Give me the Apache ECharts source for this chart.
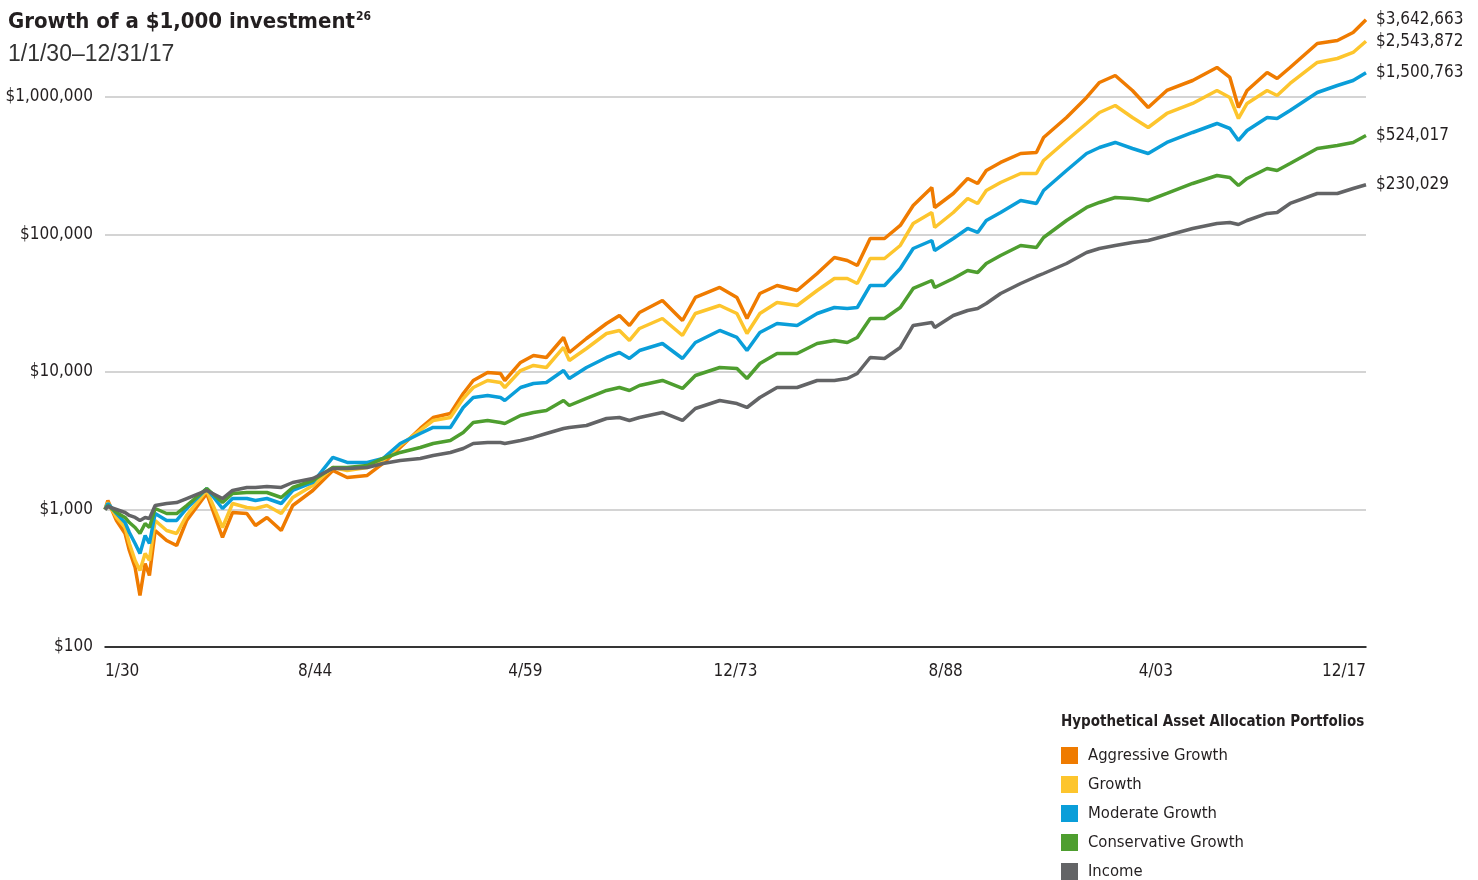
<!DOCTYPE html>
<html style="height: 100%">
<head>
<meta charset="utf-8">
<script src="https://cdn.jsdelivr.net/npm/echarts@6/dist/echarts.min.js"></script>
</head>
<body style="height: 100%; margin: 0; background: #fff">
<div id="container" style="width: 1478px; height: 880px"></div>
<script type="text/javascript">
// time points as decimal years (1/1930 .. 12/2017)
var timePoints = [1930.0, 1930.2, 1930.8, 1931.4, 1931.7, 1932.1, 1932.44, 1932.8, 1933.1, 1933.5,
    1934.3, 1935.0, 1935.7, 1937.1, 1938.2, 1938.9, 1939.9, 1940.5, 1941.3, 1942.3,
    1943.1, 1944.5, 1945.9, 1946.9, 1948.3, 1949.4, 1950.6, 1952.0, 1952.9, 1954.1,
    1955.0, 1955.7, 1956.7, 1957.6, 1957.9, 1959.0, 1959.9, 1960.8, 1962.0, 1962.4,
    1963.6, 1965.0, 1965.9, 1966.6, 1967.3, 1968.9, 1970.3, 1971.2, 1972.9, 1974.1,
    1974.8, 1975.7, 1976.9, 1978.3, 1979.7, 1980.9, 1981.8, 1982.5, 1983.4, 1984.4,
    1985.5, 1986.4, 1987.7, 1987.9, 1989.2, 1990.2, 1990.9, 1991.5, 1992.5, 1993.9,
    1995.0, 1995.5, 1997.1, 1998.5, 1999.4, 2000.5, 2001.7, 2002.8, 2004.1, 2005.9,
    2007.6, 2008.5, 2009.1, 2009.7, 2011.1, 2011.8, 2012.7, 2014.6, 2016.0, 2017.1, 2018.0];

var aggressive = [1000, 1162, 832, 669, 503, 379, 237, 405, 331, 703,
    595, 547, 832, 1307, 626, 951, 935, 765, 875, 703,
    1069, 1375, 1922, 1709, 1768, 2161, 2826, 3885, 4667, 4991,
    6976, 8673, 9917, 9752, 8673, 11730, 13180, 12750, 17820, 13860,
    17520, 22530, 25760, 21790, 27080, 33110, 23690, 34820, 41170, 34820,
    24500, 37230, 42570, 39150, 52040, 68030, 64690, 59490, 93520, 93520,
    116300, 162500, 219700, 157200, 198700, 255500, 234900, 292100, 334100, 388200,
    394800, 507500, 709400, 991700, 1275000, 1433000, 1115000, 838800, 1115000, 1318000,
    1639000, 1386000, 838800, 1115000, 1508000, 1363000, 1639000, 2450000, 2576000, 2945000, 3642663];

var growth = [1000, 1124, 875, 740, 566, 426, 360, 479, 426, 832,
    703, 669, 905, 1375, 740, 1106, 1034, 1017, 1069, 935,
    1222, 1495, 2021, 1922, 2021, 2273, 2922, 3757, 4439, 4667,
    6416, 7714, 8673, 8386, 7714, 10250, 11150, 10780, 15080, 12120,
    14820, 19050, 20040, 16950, 20720, 24500, 18430, 26640, 30450, 26640,
    19050, 26640, 32030, 30450, 39150, 47860, 47860, 44020, 66900, 66900,
    83180, 120200, 144500, 112400, 144500, 182700, 168100, 208900, 238900, 277700,
    277700, 345400, 482700, 641600, 771500, 867400, 709400, 600000, 758600, 897000,
    1115000, 991700, 697600, 897000, 1115000, 1025000, 1254000, 1782000, 1905000, 2107000, 2543872];

var moderate = [1000, 1106, 935, 804, 680, 566, 479, 647, 566, 935,
    832, 832, 1017, 1422, 1017, 1202, 1202, 1162, 1202, 1106,
    1375, 1572, 2390, 2198, 2198, 2350, 3022, 3572, 3951, 3951,
    5518, 6524, 6747, 6524, 6204, 7714, 8249, 8386, 10250, 8968,
    10780, 12750, 13860, 12540, 14330, 16120, 12540, 16390, 20040, 17820,
    14330, 19380, 22530, 21790, 26640, 29450, 28960, 29450, 42570, 42570,
    56580, 79100, 90450, 76490, 93520, 110600, 103400, 126400, 144500, 176700,
    168100, 208900, 292100, 388200, 429300, 466900, 422200, 388200, 466900, 551800,
    641600, 590000, 482700, 570600, 709400, 697600, 797800, 1078000, 1212000, 1318000, 1500763];

var conservative = [1000, 1069, 951, 875, 804, 740, 669, 791, 740, 1017,
    935, 935, 1069, 1422, 1124, 1307, 1329, 1329, 1329, 1222,
    1446, 1625, 2021, 2021, 2090, 2350, 2599, 2826, 3022, 3178,
    3633, 4293, 4439, 4293, 4222, 4826, 5075, 5248, 6204, 5706,
    6416, 7336, 7714, 7336, 7976, 8673, 7586, 9430, 10780, 10600,
    8968, 11530, 13630, 13630, 16120, 16950, 16390, 17820, 24500, 24500,
    29450, 40490, 46290, 41170, 47860, 54720, 52910, 61520, 70350, 83180,
    80440, 95110, 126400, 157200, 170900, 185800, 182700, 176700, 198700, 234900,
    268600, 259700, 227200, 255500, 302000, 292100, 328500, 422200, 444000, 466900, 524017];

var income = [1000, 1051, 1000, 951, 905, 875, 832, 875, 860, 1069,
    1106, 1124, 1202, 1375, 1202, 1375, 1446, 1446, 1470, 1446,
    1572, 1681, 1987, 1987, 2021, 2161, 2273, 2350, 2472, 2599,
    2779, 3022, 3073, 3073, 3022, 3178, 3342, 3572, 3885, 3951,
    4082, 4589, 4667, 4439, 4667, 5075, 4439, 5427, 6204, 5900,
    5518, 6524, 7714, 7714, 8673, 8673, 8968, 9752, 12750, 12540,
    15080, 21790, 22910, 21070, 25760, 28010, 28960, 31490, 37230, 44020,
    49500, 52040, 61520, 73970, 79100, 83180, 87450, 90450, 98330, 110600,
    120200, 122300, 118200, 126400, 142200, 144500, 168100, 198700, 198700, 216000, 230029];

var seriesNames = ['Aggressive Growth', 'Growth', 'Moderate Growth', 'Conservative Growth', 'Income'];
var seriesColors = ['#ef7b00', '#fdc52d', '#0a9ed9', '#4e9e2f', '#636466'];
var xLabels = ['1/30', '8/44', '4/59', '12/73', '8/88', '4/03', '12/17'];

var FONT = "'Liberation Sans Narrow', 'DejaVu Sans Condensed', 'Roboto Condensed', sans-serif";
var TXT = '#231f20';

function pairs(values) {
    return values.map(function (v, i) {
        return [(timePoints[i] - 1930) * 12, v];
    });
}
function money(v) {
    return '$' + Math.round(v).toLocaleString('en-US');
}

var dom = document.getElementById('container');
var myChart = echarts.init(dom);

var allValues = [aggressive, growth, moderate, conservative, income];
var series = allValues.map(function (vals, i) {
    return {
        name: seriesNames[i],
        type: 'line',
        data: pairs(vals),
        showSymbol: false,
        symbol: 'none',
        lineStyle: { width: 3.5, color: seriesColors[i] },
        itemStyle: { color: seriesColors[i] },
        emphasis: { disabled: true },
        endLabel: {
            show: true,
            distance: 10,
            formatter: function (p) { return money(p.value[1]); },
            fontFamily: FONT,
            fontSize: 17,
            color: TXT
        }
    };
});

var option = {
    animation: false,
    backgroundColor: '#fff',
    textStyle: { fontFamily: FONT },
    title: [{
        text: '{a|Growth of a $1,000 investment}{s|26}',
        subtext: '1/1/30–12/31/17',
        left: 8,
        top: 8,
        padding: 0,
        itemGap: 9,
        textStyle: {
            fontFamily: FONT,
            rich: {
                a: { fontFamily: FONT, fontSize: 22, fontWeight: 'bold', color: TXT, lineHeight: 28 },
                s: { fontFamily: FONT, fontSize: 12, fontWeight: 'bold', color: TXT, verticalAlign: 'top', lineHeight: 28, padding: [3, 0, 0, 1] }
            }
        },
        subtextStyle: {
            fontFamily: "'Liberation Sans', 'DejaVu Sans', sans-serif",
            fontSize: 23,
            lineHeight: 26,
            color: '#333'
        }
    }, {
        text: 'Hypothetical Asset Allocation Portfolios',
        left: 1061,
        top: 715,
        padding: 0,
        textStyle: { fontFamily: FONT, fontSize: 15, fontWeight: 'bold', color: TXT }
    }],
    legend: {
        data: seriesNames,
        orient: 'vertical',
        left: 1061,
        top: 747,
        height: 160,
        padding: 0,
        icon: 'rect',
        itemWidth: 17,
        itemHeight: 17,
        itemGap: 12,
        selectedMode: false,
        textStyle: { fontFamily: FONT, fontSize: 16.5, lineHeight: 17, color: TXT, padding: [0, 0, 0, 5] }
    },
    grid: { left: 105, right: 112, top: 14.2, bottom: 233, containLabel: false, outerBoundsMode: 'none' },
    xAxis: {
        type: 'value',
        min: 0,
        max: 1056,
        interval: 176,
        axisLine: { lineStyle: { color: '#000', width: 1.5 } },
        axisTick: { show: false },
        splitLine: { show: false },
        axisLabel: {
            margin: 16,
            fontFamily: FONT,
            fontSize: 17,
            color: TXT,
            alignMinLabel: 'left',
            alignMaxLabel: 'right',
            formatter: function (v) { return xLabels[Math.round(v / 176)] || ''; }
        }
    },
    yAxis: {
        type: 'log',
        logBase: 10,
        min: 100,
        max: 4000000,
        axisLine: { show: false },
        axisTick: { show: false },
        splitLine: { show: true, showMaxLine: false, lineStyle: { color: '#c6c6c6', width: 1.5 } },
        axisLabel: {
            margin: 12,
            fontFamily: FONT,
            fontSize: 17,
            color: TXT,
            showMaxLabel: false,
            formatter: function (v) { return money(v); }
        }
    },
    series: series
};

myChart.setOption(option);
</script>
</body>
</html>
